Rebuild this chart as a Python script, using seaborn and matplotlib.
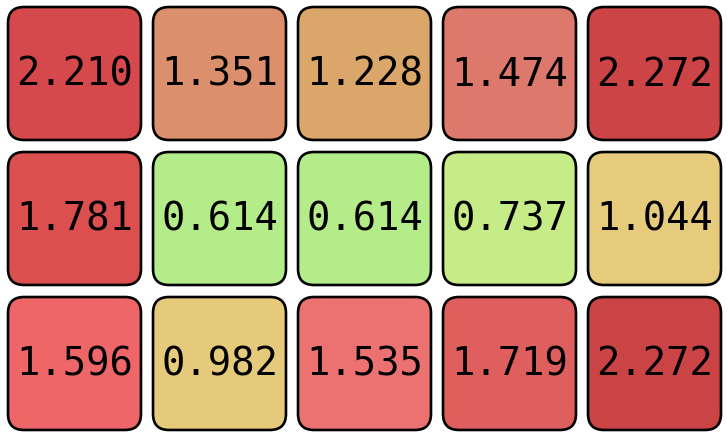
import numpy as np
import pandas as pd
import seaborn as sns
import matplotlib.pyplot as plt
from matplotlib.patches import FancyBboxPatch

# Cell values, row by row
values = [
    [2.210, 1.351, 1.228, 1.474, 2.272],
    [1.781, 0.614, 0.614, 0.737, 1.044],
    [1.596, 0.982, 1.535, 1.719, 2.272],
]

# Fill colour of each cell as seen in the picture
cell_colors = [
    ["#D5494C", "#DC8F6C", "#DBA66A", "#DC786C", "#CC4446"],
    ["#DB4F4F", "#B4EC8A", "#B4EC8A", "#C6EC88", "#E6CB7D"],
    ["#EE6668", "#E6CA7C", "#EC7272", "#DE5F5E", "#CA4446"],
]

df = pd.DataFrame(values)
labels = df.map(lambda v: f"{v:.3f}")

fig = plt.figure(figsize=(7.27, 4.39), dpi=100)
ax = fig.add_axes([0, 0, 1, 1])

sns.heatmap(df, annot=labels, fmt="", cbar=False, ax=ax,
            annot_kws={"fontsize": 28, "family": "DejaVu Sans Mono", "color": "black"})

# hide the square mesh, replace it with rounded boxes
ax.collections[0].set_visible(False)

gap = 0.083
for r in range(len(values)):
    for c in range(len(values[r])):
        box = FancyBboxPatch((c + gap / 2, r + gap / 2), 1 - gap, 1 - gap,
                             boxstyle="round,pad=0,rounding_size=0.11",
                             facecolor=cell_colors[r][c], edgecolor="black",
                             linewidth=1.9, zorder=1)
        ax.add_patch(box)

for t in ax.texts:
    t.set_zorder(3)

ax.set_xlim(-2 / 145, 5)
ax.set_ylim(3 + 2 / 145, -2 / 145)
ax.axis("off")

fig.savefig("out.png", dpi=100)
